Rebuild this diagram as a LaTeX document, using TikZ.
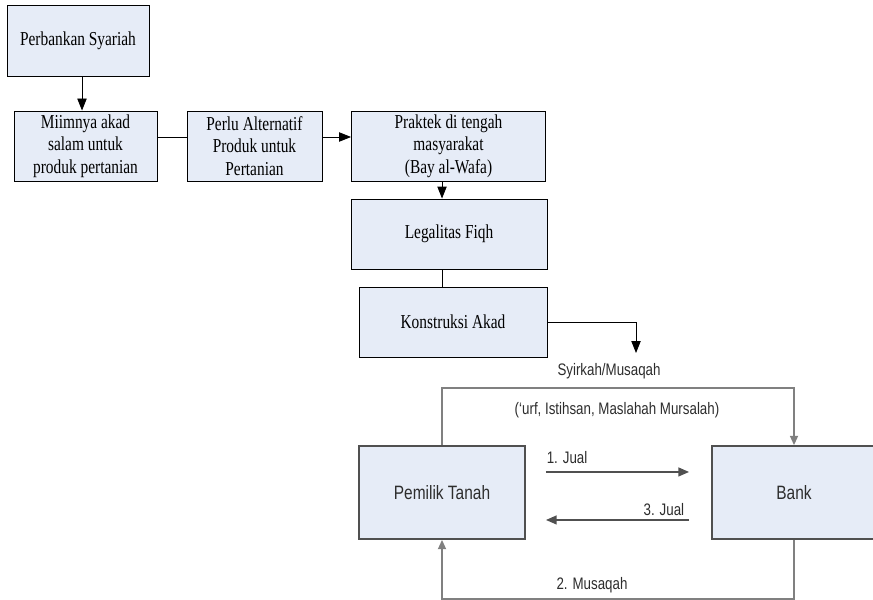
\documentclass[tikz,border=0pt]{standalone}
\usepackage{fontspec}
\setmainfont[FakeStretch=0.78]{Liberation Serif}
\newfontfamily\lsans[FakeStretch=0.8]{Liberation Sans}
\usetikzlibrary{arrows.meta}

\definecolor{boxfill}{RGB}{230,236,247}
\definecolor{lgray}{RGB}{128,128,128}
\definecolor{dgray}{RGB}{80,80,80}
\definecolor{tgray}{RGB}{45,45,45}

\tikzset{
  box/.style={draw=black,line width=0.7pt,fill=boxfill,inner sep=0pt,align=center,
    font=\fontsize{14.8}{17}\selectfont},
  sbox/.style={draw=dgray,line width=1.3pt,fill=boxfill,inner sep=0pt,align=center,
    text=tgray,font=\lsans\fontsize{14.5}{17}\selectfont},
  lbl/.style={inner sep=0pt,text=tgray,font=\lsans\fontsize{12.5}{15}\selectfont},
  arr/.style={-{Triangle[length=9pt,width=7pt]},line width=0.7pt},
  garr/.style={-{Triangle[length=7pt,width=6pt]},draw=lgray,line width=1.3pt},
  darr/.style={-{Triangle[length=8pt,width=6.5pt]},draw=dgray,line width=1.4pt}
}

\begin{document}
\begin{tikzpicture}[x=0.75pt,y=-0.75pt]

\useasboundingbox [fill=white] (0,0) rectangle (873,599);

% upper chain
\node [box,minimum width=106.5pt,minimum height=53.25pt] (sy) at (78,40.5) {Perbankan Syariah};
\node [box,minimum width=107.25pt,minimum height=52.5pt] (mi) at (85.5,146) {Miimnya akad\\salam untuk\\produk pertanian};
\node [box,minimum width=101.25pt,minimum height=52.5pt] (pa) at (254.5,146) {Perlu Alternatif\\Produk untuk\\Pertanian};
\node [box,minimum width=145.5pt,minimum height=52.5pt] (pr) at (448.5,146) {Praktek di tengah\\masyarakat\\(Bay al-Wafa)};
\node [box,minimum width=147pt,minimum height=52.5pt] (lf) at (449,234) {Legalitas Fiqh};
\node [box,minimum width=141pt,minimum height=52.5pt] (ka) at (453,322) {Konstruksi Akad};

\draw[arr] ([xshift=3pt]sy.south) -- ([xshift=3pt]sy.south |- mi.north);
\draw ([yshift=6.75pt]mi.east) -- ([yshift=6.75pt]pa.west);
\draw[arr] ([yshift=6.75pt]pa.east) -- ([yshift=6.75pt]pr.west);
\draw[arr] ([xshift=-5.25pt]lf.north |- pr.south) -- ([xshift=-5.25pt]lf.north);
\draw ([xshift=-5.25pt]lf.south) -- ([xshift=-5.25pt]lf.south |- ka.north);

\coordinate (kaend) at (636,353);
\draw[arr] (ka.east) -| (kaend);

% contract scheme
\node [lbl] (sk) at (609,371) {Syirkah/Musaqah};
\node [lbl] (urf) at (617,410) {(‘urf, Istihsan, Maslahah Mursalah)};

\node [sbox,minimum width=124.5pt,minimum height=69.75pt] (pt) at (442,492.5) {Pemilik Tanah};
\node [sbox,minimum width=123pt,minimum height=69.75pt] (bank) at (794,492.5) {Bank};

\draw[garr] (pt.north) -- ++(0,-57) -| (bank.north);
\draw[garr] (bank.south) -- ++(0,59) -| (pt.south);
\node [lbl] (mu) at (592,585) {2. Musaqah};

\draw[darr] ([shift={(15pt,15.4pt)}]pt.east) -- ([shift={(-16.5pt,15.4pt)}]bank.west)
  node[lbl,pos=0,anchor=base west,yshift=6pt] (j1) {1. Jual};
\draw[darr] ([shift={(-16.5pt,-20.6pt)}]bank.west) -- ([shift={(15pt,-20.6pt)}]pt.east)
  node[lbl,pos=0,anchor=base east,xshift=-3pt,yshift=3pt] (j3) {3. Jual};

\end{tikzpicture}
\end{document}
